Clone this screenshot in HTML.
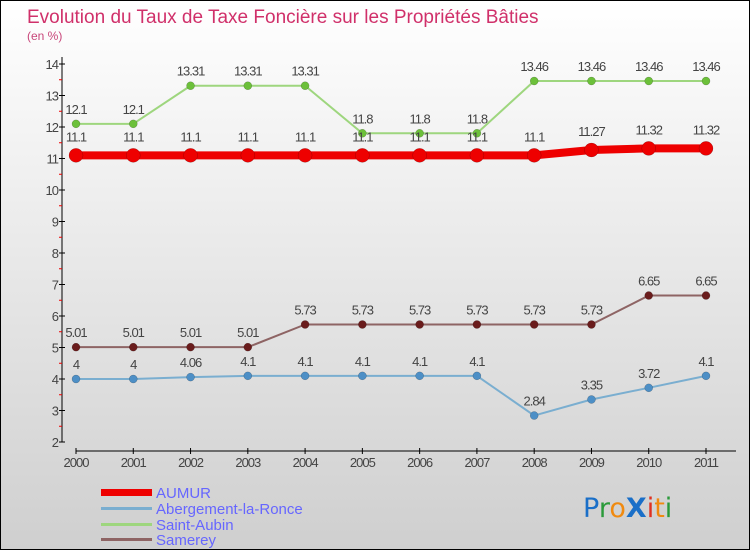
<!DOCTYPE html>
<html><head><meta charset="utf-8"><style>
html,body{margin:0;padding:0}
body{width:750px;height:550px;overflow:hidden;font-family:"Liberation Sans",sans-serif}
#wrap{position:relative;width:748px;height:548px;border:1px solid #000;background:linear-gradient(#ffffff,#cfcfcf)}
</style></head><body>
<div id="wrap">
<svg id="chart" width="748" height="548">
<text x="26" y="22" font-size="19" fill="#d0306a">Evolution du Taux de Taxe Foncière sur les Propriétés Bâties</text>
<text x="26" y="39" font-size="12" fill="#c8467a">(en %)</text>
<g id="axes"></g><g id="series"></g>
<g>
<rect x="100" y="488" width="51" height="7" fill="#ee0000"/>
<text x="155" y="497" font-size="15" fill="#6666ff">AUMUR</text>
<rect x="100" y="506" width="51" height="3" fill="#7aaed0"/>
<text x="155" y="513" font-size="15" fill="#6666ff">Abergement-la-Ronce</text>
<rect x="100" y="522" width="51" height="3" fill="#9ed67e"/>
<text x="155" y="529" font-size="15" fill="#6666ff">Saint-Aubin</text>
<rect x="100" y="537" width="51" height="3" fill="#8e6464"/>
<text x="155" y="544" font-size="15" fill="#6666ff">Samerey</text>
</g>
<g font-size="27" font-family="DejaVu Sans, sans-serif">
<text x="582" y="516"><tspan fill="#1a6fc8">P</tspan><tspan fill="#2a9a3a">r</tspan><tspan fill="#f08a10">o</tspan><tspan fill="#1a6fc8" font-weight="bold">X</tspan><tspan fill="#e03020">i</tspan><tspan fill="#f08a10">t</tspan><tspan fill="#2a9a3a">i</tspan></text>
</g>
</svg></div>
<script>
const years=[2000,2001,2002,2003,2004,2005,2006,2007,2008,2009,2010,2011];
const yTicks=[2,3,4,5,6,7,8,9,10,11,12,13,14];
const aumur=[11.1,11.1,11.1,11.1,11.1,11.1,11.1,11.1,11.1,11.27,11.32,11.32];
const abergement=[4,4,4.06,4.1,4.1,4.1,4.1,4.1,2.84,3.35,3.72,4.1];
const saintAubin=[12.1,12.1,13.31,13.31,13.31,11.8,11.8,11.8,13.46,13.46,13.46,13.46];
const samerey=[5.01,5.01,5.01,5.01,5.73,5.73,5.73,5.73,5.73,5.73,6.65,6.65];
const NS='http://www.w3.org/2000/svg';
const X=i=>75+i*(630/11);
const Y=v=>441-(v-2)*31.5;
function mk(tag,attrs,parent){const e=document.createElementNS(NS,tag);for(const k in attrs)e.setAttribute(k,attrs[k]);parent.appendChild(e);return e;}
const ax=document.getElementById('axes');
let l=mk('line',{x1:61,y1:56,x2:61,y2:441,stroke:'#000','stroke-width':1},ax);


l=mk('line',{x1:75,y1:450,x2:735,y2:450,stroke:'#000','stroke-width':1},ax);


yTicks.forEach(v=>{
 mk('line',{x1:58,y1:Y(v),x2:64,y2:Y(v),stroke:'#000'},ax);
 if(v<14){mk('line',{x1:58,y1:Y(v+0.5),x2:61,y2:Y(v+0.5),stroke:'#e00'},ax);}
 const t=mk('text',{x:57,y:Y(v)+5,'font-size':13,fill:'#444','text-anchor':'end','letter-spacing':'-1'},ax);
 t.textContent=v;
 
 
});
years.forEach((yr,i)=>{
 mk('line',{x1:X(i),y1:447,x2:X(i),y2:453,stroke:'#000'},ax);
 const t=mk('text',{x:X(i),y:466,'font-size':13,fill:'#444','text-anchor':'middle','letter-spacing':'-1'},ax);
 t.textContent=yr;
 
 
});
const sg=document.getElementById('series');
function series(vals,name,color,dot,width,r,off){
 const g=mk('g',{},sg);
 
 
 const p=mk('polyline',{points:vals.map((v,i)=>X(i)+','+Y(v)).join(' '),fill:'none',stroke:color,'stroke-width':width,'stroke-linejoin':'round'},g);
 
 
 vals.forEach((v,i)=>{
  const c=mk('circle',{cx:X(i),cy:Y(v),r:r,fill:dot,stroke:'rgba(0,0,0,0.3)','stroke-width':0.5},g);
  
  
  const t=mk('text',{x:X(i),y:Y(v)-off,'font-size':13,fill:'#444','text-anchor':'middle','letter-spacing':'-1'},g);
  t.textContent=String(v);
  
  
 });
}
series(saintAubin,'saint-aubin','#9ed67e','#6cc03a',2,4,10);
series(samerey,'samerey','#8e6464','#6a1c1c',2,4,10);
series(abergement,'abergement','#7aaed0','#4d8fc6',2,4,10);
series(aumur,'aumur','#ee0000','#ee0000',8,7,14);
</script>
</body></html>
